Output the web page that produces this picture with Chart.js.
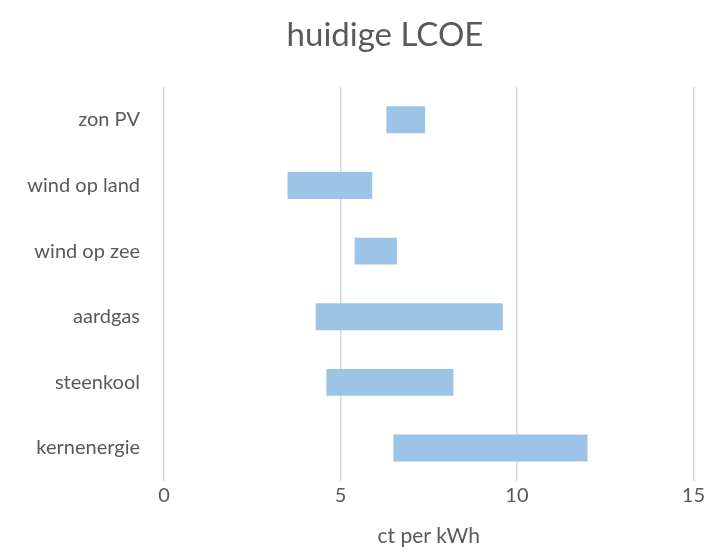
<!DOCTYPE html>
<html>
<head>
<meta charset="utf-8">
<script src="https://cdn.jsdelivr.net/npm/chart.js@4"></script>
<style>
    html, body { margin: 0; padding: 0; background: #fff; }
    #wrap { position: relative; width: 708px; height: 552px; }
    #title {
        position: absolute; left: 0; width: 770px; top: 13px;
        text-align: center; font-family: Lato, sans-serif; font-size: 33px; color: #595959;
    }
</style>
</head>
<body>
<div id="wrap">
    <div id="title">huidige LCOE</div>
    <canvas id="lcoe-chart" width="708" height="552"></canvas>
</div>
<script>
const categories = ['zon PV', 'wind op land', 'wind op zee', 'aardgas', 'steenkool', 'kernenergie'];
const lowValues = [6.3, 3.5, 5.4, 4.3, 4.6, 6.5];
const highValues = [7.4, 5.9, 6.6, 9.6, 8.2, 12.0];
const xTicks = [0, 5, 10, 15];

const ranges = categories.map((c, i) => [lowValues[i], highValues[i]]);

const ctx = document.getElementById('lcoe-chart').getContext('2d');
const lcoeChart = new Chart(ctx, {
    type: 'bar',
    data: {
        labels: categories,
        datasets: [{
            label: 'LCOE',
            data: ranges,
            backgroundColor: '#9dc3e6',
            borderWidth: 0,
            barPercentage: 0.41,
            categoryPercentage: 1
        }]
    },
    options: {
        indexAxis: 'y',
        responsive: false,
        animation: false,
        layout: {
            padding: { top: 87, right: 13, bottom: 3, left: 0 }
        },
        plugins: {
            legend: { display: false },
            tooltip: { enabled: false }
        },
        scales: {
            x: {
                min: 0,
                max: 15,
                afterBuildTicks: function(axis) {
                    axis.ticks = xTicks.map(v => ({ value: v }));
                },
                grid: { color: '#d9d9d9', lineWidth: 1.5, drawTicks: false },
                border: { display: false },
                ticks: {
                    color: '#595959',
                    font: { family: 'Lato', size: 20 },
                    padding: 3
                },
                title: {
                    display: true,
                    text: 'ct per kWh',
                    color: '#595959',
                    font: { family: 'Lato', size: 21 },
                    padding: { top: 13, bottom: 0 }
                }
            },
            y: {
                grid: { display: false },
                border: { display: false },
                ticks: {
                    color: '#595959',
                    font: { family: 'Lato', size: 20 },
                    padding: 16
                },
                afterFit: function(axis) { axis.width = 164; }
            }
        }
    }
});
</script>
</body>
</html>
